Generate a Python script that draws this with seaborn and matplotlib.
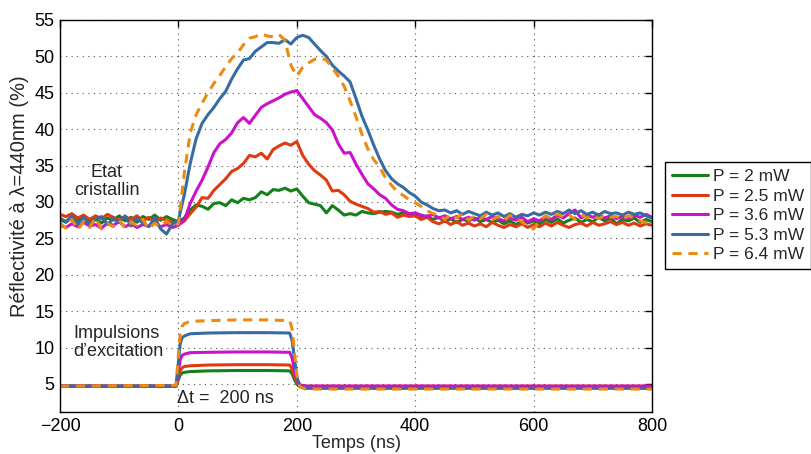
import numpy as np
import pandas as pd
import matplotlib
matplotlib.use("Agg")
import matplotlib.pyplot as plt
import seaborn as sns

# ── Data ──────────────────────────────────────────────────────────────────────
time_ns = np.arange(-200, 801, 10)

refl_2mW = [
    27.6, 27.2, 27.9, 27.4, 28.0, 27.3, 27.7, 27.1, 27.8, 27.5,
    28.1, 27.4, 27.9, 27.2, 28.0, 27.6, 28.2, 27.5, 28.0, 27.6,
    27.3, 27.8, 28.9, 29.6, 29.4, 29.0, 29.8, 29.9, 29.5, 30.3,
    29.9, 30.5, 30.3, 30.6, 31.4, 31.0, 31.7, 31.6, 31.9, 31.5,
    31.8, 30.8, 29.9, 29.7, 29.5, 28.5, 29.5, 28.9, 28.2, 28.4,
    28.2, 28.7, 28.5, 28.4, 28.6, 28.7, 28.6, 28.3, 28.5, 28.3,
    28.2, 27.8, 28.1, 27.6, 27.9, 27.3, 27.7, 27.2, 27.6, 27.4,
    27.8, 27.3, 27.6, 27.2, 27.5, 27.0, 27.4, 26.9, 27.3, 27.1,
    27.4, 27.0, 27.6, 27.2, 27.7, 27.1, 27.5, 27.8, 27.2, 27.6,
    27.3, 27.9, 27.4, 27.8, 27.0, 27.6, 27.4, 27.8, 27.2, 27.6,
    27.3]

refl_2_5mW = [
    28.3, 28.0, 28.4, 27.8, 28.2, 27.6, 28.1, 27.7, 28.3, 27.9,
    27.5, 28.0, 27.6, 28.1, 27.4, 27.9, 27.3, 27.8, 27.5, 27.2,
    27.0, 27.4, 28.4, 29.3, 30.6, 30.5, 31.6, 32.4, 33.2, 34.2,
    34.6, 35.3, 36.4, 36.2, 36.7, 35.9, 37.2, 37.7, 38.1, 37.8,
    38.3, 36.4, 35.2, 34.3, 33.7, 33.0, 31.5, 31.6, 31.0, 30.1,
    29.7, 29.4, 29.1, 28.6, 28.7, 28.3, 28.5, 27.9, 28.2, 28.0,
    28.1, 27.6, 27.9, 27.3, 27.0, 27.4, 26.9, 27.3, 26.8, 27.1,
    26.7, 27.0, 26.6, 27.2, 26.8, 26.5, 26.9, 26.6, 27.0, 26.5,
    26.9, 26.6, 27.1, 26.7, 27.2, 26.8, 26.5, 26.9, 27.1, 26.7,
    27.2, 26.8, 27.0, 27.3, 26.9, 27.2, 26.8, 27.1, 26.7, 27.0,
    26.8]

refl_3_6mW = [
    26.8, 26.5, 27.0, 26.6, 27.2, 26.7, 26.9, 26.4, 27.1, 26.8,
    27.3, 26.6, 27.0, 26.5, 26.9, 26.7, 27.1, 26.6, 26.9, 26.5,
    26.8, 27.5, 29.8, 31.5, 33.0, 34.8, 36.8, 38.0, 38.6, 39.5,
    40.9, 41.6, 40.8, 41.9, 43.0, 43.5, 43.9, 44.3, 44.8, 45.1,
    45.3, 44.2, 43.1, 42.0, 41.5, 40.9, 39.9, 38.0, 36.7, 36.8,
    35.2, 33.8, 32.5, 31.8, 31.0, 30.5, 29.6, 29.0, 28.8, 28.4,
    28.5, 28.2, 28.0, 28.3, 27.8, 28.1, 27.7, 28.0, 27.6, 27.9,
    27.5, 27.9, 27.6, 28.0, 27.7, 27.4, 27.8, 27.5, 27.9, 27.3,
    27.7, 27.4, 28.0, 27.6, 28.2, 27.8, 28.4, 28.9, 27.8, 28.2,
    27.9, 28.3, 27.8, 28.1, 27.7, 28.0, 27.8, 28.2, 27.9, 28.3,
    27.9]

refl_5_3mW = [
    27.8, 27.3, 28.1, 27.0, 27.9, 26.8, 27.6, 28.0, 26.9, 27.7,
    27.2, 28.1, 26.7, 27.8, 27.1, 26.6, 27.9, 26.3, 25.6, 27.0,
    27.5, 31.0, 35.3, 38.7, 40.8, 42.0, 43.0, 44.2, 45.2, 46.9,
    48.3, 49.5, 49.7, 50.7, 51.3, 51.9, 51.9, 51.8, 52.3, 51.7,
    52.6, 52.9, 52.6, 51.7, 50.8, 50.0, 48.8, 48.0, 47.3, 46.5,
    44.2, 41.8, 39.9, 37.8, 35.9, 34.3, 33.2, 32.5, 32.0, 31.3,
    30.8, 30.0, 29.6, 29.1, 28.8, 28.9, 28.5, 28.8, 28.3, 28.7,
    28.4, 28.1, 28.6, 28.2, 28.5, 28.0, 28.4, 27.9, 28.3, 28.1,
    28.5, 28.2, 28.6, 28.3, 28.7, 28.4, 28.9, 28.4, 28.8, 28.3,
    28.6, 28.2, 28.7, 28.4, 28.5, 28.2, 28.6, 28.3, 28.5, 28.1,
    27.8]

refl_6_4mW = [
    27.1, 26.4, 27.6, 26.2, 27.3, 26.5, 27.8, 26.3, 27.0, 26.6,
    27.5, 26.4, 27.2, 26.8, 27.6, 26.3, 27.1, 26.6, 27.4, 26.7,
    27.0, 34.0, 39.5, 42.0, 43.6, 45.0, 46.3, 47.4, 48.6, 49.7,
    50.5, 51.6, 52.5, 52.7, 53.1, 52.8, 52.7, 53.0, 52.2, 48.8,
    47.3, 48.5, 49.1, 49.6, 49.8, 49.5, 48.4, 47.3, 45.9, 43.9,
    41.7, 39.3, 37.3, 35.8, 34.8, 33.3, 32.3, 31.4, 30.9, 30.3,
    29.9, 29.4, 28.8, 28.4, 28.2, 27.6, 28.3, 27.8, 28.4, 27.5,
    28.1, 27.7, 28.3, 27.6, 28.0, 27.4, 28.2, 27.7, 27.3, 26.6,
    26.3, 27.4, 28.1, 27.7, 28.4, 27.9, 28.2, 27.6, 28.3, 27.8,
    28.1, 27.7, 28.2, 27.9, 28.0, 27.6, 28.1, 27.8, 27.4, 27.2,
    26.9]

# excitation pulses (lower traces)
pulse_t = [-200, -4, 0, 3, 6, 10, 20, 50, 100, 150, 188, 192, 196, 200, 205, 215, 800]
pulse_2mW = [4.7, 4.7, 5.6, 6.2, 6.5, 6.6, 6.7, 6.8, 6.85, 6.85, 6.8, 6.4, 5.6, 5.0, 4.6, 4.5, 4.5]
pulse_2_5mW = [4.7, 4.7, 6.0, 6.8, 7.2, 7.4, 7.5, 7.6, 7.65, 7.65, 7.6, 7.1, 6.0, 5.2, 4.8, 4.7, 4.7]
pulse_3_6mW = [4.7, 4.7, 6.8, 8.3, 8.9, 9.1, 9.3, 9.35, 9.4, 9.4, 9.35, 8.6, 7.0, 5.6, 4.9, 4.7, 4.7]
pulse_5_3mW = [4.7, 4.7, 8.0, 10.5, 11.3, 11.6, 11.9, 12.0, 12.05, 12.05, 12.0, 11.0, 8.5, 6.0, 4.7, 4.4, 4.4]
pulse_6_4mW = [4.7, 4.8, 9.0, 11.8, 12.9, 13.3, 13.6, 13.7, 13.8, 13.8, 13.7, 12.6, 9.5, 6.3, 4.6, 4.3, 4.3]

labels = ["P = 2 mW", "P = 2.5 mW", "P = 3.6 mW", "P = 5.3 mW", "P = 6.4 mW"]
colors = ["#13801a", "#e03a12", "#cc11cc", "#386ca0", "#ec8a12"]
refl = [refl_2mW, refl_2_5mW, refl_3_6mW, refl_5_3mW, refl_6_4mW]
pulses = [pulse_2mW, pulse_2_5mW, pulse_3_6mW, pulse_5_3mW, pulse_6_4mW]

# ── Style ─────────────────────────────────────────────────────────────────────
sns.set_style("white")
plt.rcParams["font.family"] = ["Liberation Sans", "DejaVu Sans"]
FS = 13

fig = plt.figure(figsize=(8.11, 4.54), dpi=100)
ax = fig.add_axes([60 / 811, 42 / 454, 592 / 811, 392 / 454])

LW = 2.2
handles = []
for lab, col, r, p in zip(labels, colors, refl, pulses):
    dashed = lab == "P = 6.4 mW"
    df_r = pd.DataFrame({"t": time_ns, "R": r})
    df_p = pd.DataFrame({"t": pulse_t, "R": p})
    sns.lineplot(data=df_r, x="t", y="R", color=col, lw=LW, ax=ax, legend=False)
    sns.lineplot(data=df_p, x="t", y="R", color=col, lw=LW, ax=ax, legend=False)
    if dashed:
        for ln in ax.lines[-2:]:
            ln.set_dashes((3.0, 2.2))
    handles.append(ax.lines[-2])

# ── Axes ──────────────────────────────────────────────────────────────────────
ax.set_xlim(-200, 800)
ax.set_ylim(1.15, 55)
ax.set_xticks(np.arange(-200, 801, 200))
ax.set_yticks(np.arange(5, 56, 5))
ax.grid(True, color="#555555", linestyle=(0, (1, 4)), linewidth=0.8)
ax.tick_params(direction="in", length=5, width=1, top=True, right=True,
               labelsize=FS, colors="black", pad=4)
for sp in ax.spines.values():
    sp.set_color("black")
    sp.set_linewidth(1.0)
ax.set_xlabel("Temps (ns)", fontsize=FS, labelpad=0)
ax.set_ylabel("Réflectivité à λ=440nm (%)", fontsize=14.5)
ax.yaxis.set_label_coords(-0.053, 0.55)

# ── Annotations ───────────────────────────────────────────────────────────────
ax.text(-121, 32.8, "Etat\ncristallin", ha="center", va="center",
        multialignment="center", fontsize=FS, linespacing=1.05)
ax.text(-178, 10.7, "Impulsions\nd’excitation", ha="left", va="center",
        fontsize=FS, linespacing=1.05)
ax.text(-3, 3.0, "Δt =  200 ns", ha="left", va="center", fontsize=FS)

# ── Legend ────────────────────────────────────────────────────────────────────
leg = fig.legend(handles, labels, loc="upper left",
                 bbox_to_anchor=(665 / 811, 1 - 162 / 454), borderaxespad=0,
                 fancybox=False, edgecolor="black", framealpha=1,
                 fontsize=12.5, handlelength=2.1, labelspacing=0.25,
                 handletextpad=0.25, borderpad=0.4)
leg.get_frame().set_linewidth(1.0)

fig.savefig("out.png", dpi=100)
